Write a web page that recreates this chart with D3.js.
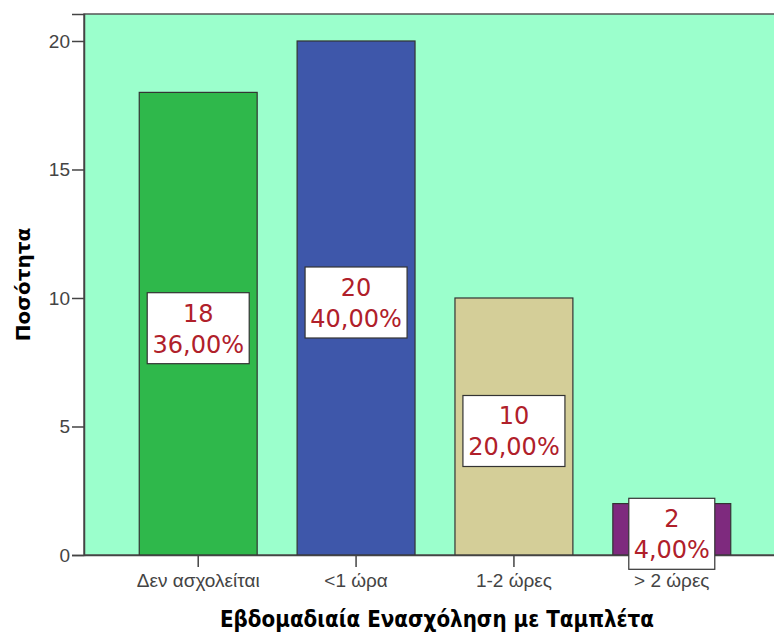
<!DOCTYPE html>
<html>
<head>
<meta charset="utf-8">
<script src="https://cdn.jsdelivr.net/npm/d3@7"></script>
<style>
    body { margin: 0; background: #fff; }
    text { font-family: "DejaVu Sans", sans-serif; }
</style>
</head>
<body>
<div id="chart"></div>
<script>
(function() {
    var categories = ["Δεν ασχολείται", "<1 ώρα", "1-2 ώρες", "> 2 ώρες"];
    var counts = [18, 20, 10, 2];
    var percents = ["36,00%", "40,00%", "20,00%", "4,00%"];
    var barColors = ["#2fb84b", "#3e57aa", "#d4ce98", "#7e2a7e"];
    var yTicks = [0, 5, 10, 15, 20];

    var svgWidth = 774, svgHeight = 634;
    var margin = {top: 14, left: 84, bottom: 79};
    var plotRight = 786;

    var svg = d3.select("#chart")
        .append("svg")
        .attr("width", svgWidth)
        .attr("height", svgHeight);

    var x = d3.scaleBand()
        .domain(categories)
        .range([margin.left, plotRight])
        .paddingInner(0.253)
        .paddingOuter(0.35);

    var y = d3.scaleLinear()
        .domain([0, 21.05])
        .range([svgHeight - margin.bottom, margin.top]);

    // plot background
    svg.append("rect")
        .attr("x", margin.left)
        .attr("y", margin.top)
        .attr("width", plotRight - margin.left)
        .attr("height", y(0) - margin.top)
        .style("fill", "#9bffcc")
        .style("stroke", "#555")
        .style("stroke-width", 1.5);

    svg.selectAll(".bar")
        .data(counts)
        .enter().append("rect")
        .attr("class", "bar")
        .attr("x", (d, i) => x(categories[i]))
        .attr("y", d => y(d))
        .attr("width", x.bandwidth())
        .attr("height", d => y(0) - y(d))
        .style("fill", (d, i) => barColors[i])
        .style("stroke", "#333")
        .style("stroke-width", 1.2);

    var yAxis = svg.append("g")
        .attr("transform", "translate(" + margin.left + ",0)")
        .call(d3.axisLeft(y).tickValues(yTicks).tickSize(12).tickPadding(2));
    yAxis.select(".domain").style("stroke", "#444").style("stroke-width", 1.5);
    yAxis.selectAll(".tick line").style("stroke", "#444").style("stroke-width", 1.5);
    yAxis.selectAll(".tick text")
        .style("font-family", "'Liberation Sans', Arial, sans-serif")
        .style("font-size", "19px")
        .style("fill", "#444");

    var xAxis = svg.append("g")
        .attr("transform", "translate(0," + y(0) + ")")
        .call(d3.axisBottom(x).tickSize(12).tickPadding(7).tickSizeOuter(0));
    xAxis.select(".domain").style("stroke", "#444").style("stroke-width", 1.5);
    xAxis.selectAll(".tick line").style("stroke", "#444").style("stroke-width", 1.5);
    xAxis.selectAll(".tick text")
        .style("font-family", "'Liberation Sans', Arial, sans-serif")
        .style("font-size", "19px")
        .style("fill", "#444");

    // value labels
    var labels = svg.selectAll(".lbl")
        .data(counts)
        .enter().append("g")
        .attr("class", "lbl")
        .attr("transform", (d, i) => "translate(" + (x(categories[i]) + x.bandwidth() / 2) + "," + ((y(d) + y(0)) / 2 + 4) + ")");

    labels.append("rect")
        .attr("x", (d, i) => i === 3 ? -43 : -51)
        .attr("y", -35)
        .attr("width", (d, i) => i === 3 ? 86 : 102)
        .attr("height", 71)
        .style("fill", "#fff")
        .style("stroke", "#333")
        .style("stroke-width", 1.2);

    labels.append("text")
        .attr("text-anchor", "middle")
        .attr("y", -6)
        .style("font-size", "24px")
        .style("fill", "#b0202a")
        .text(d => d);

    labels.append("text")
        .attr("text-anchor", "middle")
        .attr("y", 25)
        .style("font-size", "24px")
        .style("fill", "#b0202a")
        .text((d, i) => percents[i]);

    svg.append("text")
        .attr("transform", "translate(30," + ((margin.top + y(0)) / 2) + ") rotate(-90)")
        .attr("text-anchor", "middle")
        .style("font-size", "20px")
        .style("font-weight", "bold")
        .text("Ποσότητα");

    svg.append("text")
        .attr("x", 220)
        .attr("y", 627)
        .attr("textLength", 434)
        .attr("lengthAdjust", "spacingAndGlyphs")
        .style("font-size", "23px")
        .style("font-weight", "bold")
        .text("Εβδομαδιαία Ενασχόληση με Ταμπλέτα");
})();
</script>
</body>
</html>
